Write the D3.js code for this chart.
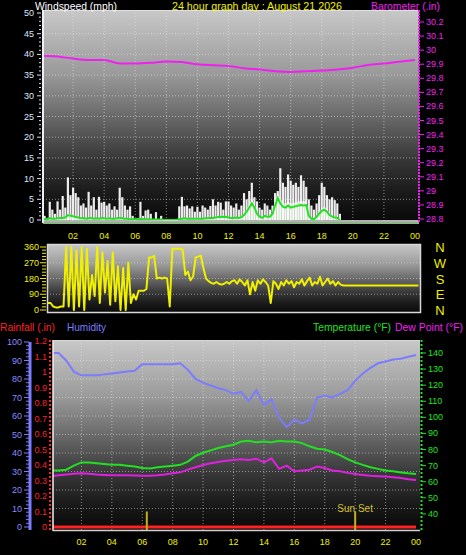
<!DOCTYPE html>
<html><head><meta charset="utf-8">
<script src="https://cdn.jsdelivr.net/npm/d3@7/dist/d3.min.js"></script>
<style>body{margin:0;background:#000}svg{display:block}</style>
</head><body>
<script>
// ---------- DATA ----------
const title = "24 hour graph day : August 21 2026";
const hourTicks = [2,4,6,8,10,12,14,16,18,20,22,24];
const hourLabels = ["02","04","06","08","10","12","14","16","18","20","22","00"];
const windTicks = [0,5,10,15,20,25,30,35,40,45,50];
const baroTicks = [28.8,28.9,29,29.1,29.2,29.3,29.4,29.5,29.6,29.7,29.8,29.9,30,30.1,30.2];
const dirTicks = [0,90,180,270,360];
const dirNames = ["N","E","S","W","N"];
const humTicks = [0,10,20,30,40,50,60,70,80,90,100];
const rainTicks = [0,0.1,0.2,0.3,0.4,0.5,0.6,0.7,0.8,0.9,1,1.1,1.2];
const tempTicks = [40,50,60,70,80,90,100,110,120,130,140];

// wind gust (mph), every 10 minutes from 00:00
const windGust = [
 2,1,0,4.4,2.5,1.5, 4.5,2.5,5.8,3,10.3,6, 7.8,6.5,5.5,3.5,4,3, 6.8,3.5,5.5,2.5,5.6,4.2,
 4.4,3.5,4,2.5,3.3,2.5, 7.8,5.5,3.5,2.5,3.3,1, 0,0.5,4.4,1,2.3,2.5, 1.5,0,1.9,0,1,0,
 0,0,0,0,0,3.3, 5.6,3.3,3.5,2.8,3.3,2, 3.2,2,3.5,3,2.5,3.4, 5,3.5,4.4,4.2,2.5,4.5,
 4.5,3.5,3,4,2.5,3.5, 6.5,5,7,9,5.5,4.5, 3,2.5,4,3.5,2.5,3.5, 6.5,7,12.5,9,8,11,
 9.5,8.5,9,8,10.8,9.5, 8,5,3.5,2.5,4,6, 9,8,6,5,5.5,4.8, 4,1.5,0,0,0,0,
 0,0,0,0,0,0, 0,0,0,0,0,0, 0,0,0,0,0,0, 0,0,0,0,0,0];
// average wind speed (mph), every 10 minutes
const windAvg = [
 0.2,0.2,0.3,0.4,0.3,0.3, 0.4,0.5,0.5,0.6,1.2,1.0, 0.9,0.7,0.6,0.4,0.5,0.3, 0.4,0.5,0.3,0.4,0.3,0.5,
 0.4,0.3,0.4,0.3,0.3,0.4, 0.5,0.4,0.3,0.3,0.2,0.2, 0.2,0.2,0.3,0.2,0.2,0.2, 0.1,0.1,0.1,0.1,0.1,0,
 0,0,0,0,0,0.2, 0.3,0.4,0.3,0.3,0.3,0.3, 0.3,0.3,0.3,0.4,0.4,0.5, 0.5,0.6,0.7,0.8,0.7,0.8,
 0.6,0.5,0.5,0.6,0.5,0.7, 1.2,2,3,4,3,1.5, 0.8,0.5,1,0.8,0.8,1.5, 3.5,5.3,4,3.2,3,3.5,
 3,3.2,3.3,3.5,3.6,3.5, 3.6,1,0.3,0.2,0.8,1.5, 2.2,2.5,2,1.2,0.8,0.6, 0.5,0,0,0,0,0,
 0,0,0,0,0,0, 0,0,0,0,0,0, 0,0,0,0,0,0, 0,0,0,0,0,0];
// barometer (in), hourly
const baro = [29.96,29.955,29.94,29.93,29.93,29.905,29.905,29.91,29.92,29.915,29.9,29.893,29.888,
 29.872,29.862,29.85,29.845,29.85,29.855,29.862,29.875,29.895,29.905,29.918,29.93];
// wind direction (degrees), every 10 minutes
const windDir = [
 40,40,20,15,15,20,20,360, 20,360,0,340,20,360,0,350,60,200,80,360,40,330,100,280,30,330,50,250,0,240,0,270,40,90,60,110,
 110,110,120,300,300,310,180,185,180,185,180,20,
 350,350,350,350,345,200,220,170,190,300,305,310,
 240,180,165,155,150,160,150,145,150,160,150,165,
 170,150,175,160,140,170,90,160,110,170,150,175,
 160,140,40,165,150,120,160,140,170,150,165,130,
 160,150,175,140,165,185,140,160,150,190,140,160,
 180,150,165,140,160,145,
 140,140,140,140,140,140,140,140,140,140,140,140,140,140,140,140,140,140,140,140,140,140,140,140,140,140,140,140,140,140];
// temperature, dew point (°F) and humidity (%), every 30 minutes
const temperature = [67,67,67.5,70,72,72,71.5,71,70.5,70.5,70,69.5,68.5,68.2,69,69.5,70,70.5,72.5,76,78,79.5,81,82,
 83,85,85.5,84.5,85,84.5,85.5,85,85,84,82,80.5,80,78.5,76.5,74,72,70.5,69,68,67,66.5,65.8,65.2,64.8];
const dewPoint = [63.5,64,64.5,65,65.2,65,64.5,64.2,64,64,64,63.8,63.7,63.7,64,64.5,65.2,65.8,67.5,69,70.4,71.5,72.3,73,
 73.5,74,73.5,74.3,72,74.5,68,70,66.5,67,67.5,69.5,68.5,67,66.5,65.5,64.8,64.2,63.7,63.4,63.2,62.8,62.3,61.5,61];
const humidity = [94,94,90,84,82,82,82,82.5,83,83.5,84,84.5,88,88,88,88,88,88.5,85,80,78,76.5,75,74,
 72,73,68,74,66,69,59,54,58,56,58,70,71,70,72,74,79,83,86,88.5,89.5,90.5,91,92,93];
const rainfall = [0,0];           // start / end of day
const sunEvents = [6.3, 20.0];
const sunEventLabels = ["", "Sun Set"];

// ---------- DRAW ----------
const W = 466, H = 555;
const svg = d3.select("body").append("svg").attr("width", W).attr("height", H)
  .style("font-family", "'Liberation Sans', Arial, sans-serif");
svg.append("rect").attr("width", W).attr("height", H).attr("fill", "#000");
const defs = svg.append("defs");
const grad = defs.append("linearGradient").attr("id", "bg").attr("x1", 0).attr("y1", 0).attr("x2", 0).attr("y2", 1);
[[0,"#c8c8c8"],[0.3,"#9a9a9a"],[0.5,"#6a6a6a"],[0.7,"#383838"],[0.85,"#1c1c1c"],[1,"#080808"]]
  .forEach(([o,c]) => grad.append("stop").attr("offset", o).attr("stop-color", c));

function clip(id, x, y, w, h) {
  defs.append("clipPath").attr("id", id).append("rect").attr("x", x).attr("y", y).attr("width", w).attr("height", h);
}
const YEL = "#f0f000", MAG = "#f020f0", GRN = "#22e022", RED = "#ff2020", BLU = "#7c7cff";
const idx10 = d3.range(windGust.length).map(i => i / 6);
const idx30 = d3.range(temperature.length).map(i => i / 2);

// ===== Top panel: wind + barometer =====
const T = {l: 43, r: 419, t: 10, b: 222};
const xTop = d3.scaleLinear([0, 24], [42, 415]);
const yWind = d3.scaleLinear([0, 50], [220, 13]);
const yBaro = d3.scaleLinear([28.8, 30.2], [219, 22]);
svg.append("rect").attr("x", T.l).attr("y", T.t).attr("width", T.r - T.l).attr("height", T.b - T.t).attr("fill", "url(#bg)");
clip("cTop", T.l, T.t, T.r - T.l, T.b - T.t);
const gTop = svg.append("g").attr("clip-path", "url(#cTop)");
gTop.selectAll(".vg").data(hourTicks.slice(0, -1)).join("line")
  .attr("x1", d => xTop(d)).attr("x2", d => xTop(d)).attr("y1", T.t).attr("y2", T.b)
  .attr("stroke", "#e8e8e8").attr("stroke-dasharray", "1,2").attr("opacity", 0.55);
gTop.selectAll(".hg").data(windTicks.slice(1, -1)).join("line")
  .attr("x1", T.l).attr("x2", T.r).attr("y1", d => yWind(d)).attr("y2", d => yWind(d))
  .attr("stroke", "#e8e8e8").attr("stroke-dasharray", "1,2").attr("opacity", 0.55);
// avg area
const avgPts = windAvg.map((v, i) => [idx10[i], v]);
gTop.append("path").datum(avgPts)
  .attr("d", d3.area().x(d => xTop(d[0])).y0(yWind(0)).y1(d => yWind(d[1] * 1.3)))
  .attr("fill", "#c8f0c0").attr("opacity", 0.75);
// gust spikes
gTop.selectAll(".gust").data(windGust.map((v, i) => [idx10[i], v]).filter(d => d[1] > 0)).join("rect")
  .attr("x", d => xTop(d[0]) - 1.1).attr("width", 2.2)
  .attr("y", d => yWind(d[1])).attr("height", d => yWind(0) - yWind(d[1]))
  .attr("fill", "#ffffff").attr("opacity", 0.92);
gTop.append("path").datum(avgPts.filter(d => d[0] <= 19.3))
  .attr("d", d3.line().x(d => xTop(d[0])).y(d => yWind(d[1])))
  .attr("fill", "none").attr("stroke", GRN).attr("stroke-width", 2);
// barometer
gTop.append("path").datum(baro.map((v, i) => [i, v]))
  .attr("d", d3.line().x(d => xTop(d[0])).y(d => yBaro(d[1])).curve(d3.curveMonotoneX))
  .attr("fill", "none").attr("stroke", MAG).attr("stroke-width", 2);
// frame
svg.append("line").attr("x1", T.l).attr("x2", T.r).attr("y1", T.t + 0.5).attr("y2", T.t + 0.5).attr("stroke", "#e0e0e0");
svg.append("line").attr("x1", T.l).attr("x2", T.l).attr("y1", T.t).attr("y2", T.b + 1).attr("stroke", "#f0f0f0").attr("stroke-width", 2);
svg.append("line").attr("x1", T.l).attr("x2", T.r).attr("y1", 221).attr("y2", 221).attr("stroke", "#e8e8e8").attr("stroke-width", 1.5);
svg.append("line").attr("x1", T.l).attr("x2", T.r).attr("y1", 223).attr("y2", 223).attr("stroke", "#b8f0b0").attr("stroke-width", 1.5);
svg.append("line").attr("x1", T.r).attr("x2", T.r).attr("y1", T.t).attr("y2", T.b + 1).attr("stroke", MAG).attr("stroke-width", 2).attr("stroke-dasharray", "2,1");
// left wind axis
svg.selectAll(".wmin").data(d3.range(0, 51)).join("line")
  .attr("x1", d => d % 5 ? 39 : 37).attr("x2", 41).attr("y1", d => yWind(d)).attr("y2", d => yWind(d))
  .attr("stroke", "#d8e0ff").attr("stroke-width", 1);
svg.selectAll(".wl").data(windTicks).join("text")
  .attr("x", 34).attr("y", d => yWind(d) + 3).attr("text-anchor", "end")
  .attr("font-size", 9).attr("fill", "#dde6ff").text(d => d);
// right baro axis
svg.selectAll(".bt").data(baroTicks).join("line")
  .attr("x1", T.r + 1).attr("x2", T.r + 5).attr("y1", d => yBaro(d)).attr("y2", d => yBaro(d))
  .attr("stroke", MAG);
svg.selectAll(".bl").data(baroTicks).join("text")
  .attr("x", 426).attr("y", d => yBaro(d) + 3)
  .attr("font-size", 9).attr("fill", MAG).text(d => d3.format("")(d));
// hour labels
svg.selectAll(".hl").data(hourTicks).join("text")
  .attr("x", d => xTop(d)).attr("y", 239).attr("text-anchor", "middle")
  .attr("font-size", 9).attr("fill", YEL).text((d, i) => hourLabels[i]);
// titles
svg.append("text").attr("x", 35).attr("y", 10).attr("font-size", 11).attr("fill", "#fff")
  .attr("textLength", 82).attr("lengthAdjust", "spacingAndGlyphs").text("Windspeed (mph)");
svg.append("text").attr("x", 172).attr("y", 10).attr("font-size", 11).attr("fill", YEL)
  .attr("textLength", 170).attr("lengthAdjust", "spacingAndGlyphs").text(title);
svg.append("text").attr("x", 371).attr("y", 10).attr("font-size", 11).attr("fill", MAG)
  .attr("textLength", 69).attr("lengthAdjust", "spacingAndGlyphs").text("Barometer (.in)");

// ===== Middle panel: wind direction =====
const M = {l: 47, r: 421, t: 244, b: 313};
const xMid = d3.scaleLinear([0, 24], [48, 421]);
const yDir = d3.scaleLinear([0, 360], [310, 247]);
svg.append("rect").attr("x", M.l).attr("y", M.t).attr("width", M.r - M.l).attr("height", M.b - M.t).attr("fill", "url(#bg)");
clip("cMid", M.l, M.t, M.r - M.l, M.b - M.t);
const gMid = svg.append("g").attr("clip-path", "url(#cMid)");
gMid.selectAll(".hg").data(dirTicks.slice(1, -1)).join("line")
  .attr("x1", M.l).attr("x2", M.r).attr("y1", d => yDir(d)).attr("y2", d => yDir(d))
  .attr("stroke", "#e8e8e8").attr("stroke-dasharray", "1,2").attr("opacity", 0.5);
gMid.append("path").datum(windDir.map((v, i) => [idx10[i], v]))
  .attr("d", d3.line().x(d => xMid(d[0])).y(d => yDir(d[1])))
  .attr("fill", "none").attr("stroke", "#f0f000").attr("stroke-width", 2).attr("stroke-linejoin", "round");
svg.append("rect").attr("x", M.l + 0.5).attr("y", M.t + 0.5).attr("width", M.r - M.l - 1).attr("height", M.b - M.t - 1)
  .attr("fill", "none").attr("stroke", "#d8d8d8").attr("stroke-width", 1.5);
svg.selectAll(".dmin").data(d3.range(0, 361, 18)).join("line")
  .attr("x1", d => d % 90 ? 42 : 40).attr("x2", 46).attr("y1", d => yDir(d)).attr("y2", d => yDir(d))
  .attr("stroke", YEL);
svg.selectAll(".dl").data(dirTicks).join("text")
  .attr("x", 39).attr("y", d => yDir(d) + 3).attr("text-anchor", "end")
  .attr("font-size", 9).attr("fill", YEL).text(d => d);
svg.selectAll(".dn").data(dirTicks).join("text")
  .attr("x", 440).attr("y", d => yDir(d) + 5).attr("text-anchor", "middle")
  .attr("font-size", 13).attr("fill", YEL).text((d, i) => dirNames[i]);

// ===== Bottom panel: temperature / humidity / rain =====
const B = {l: 53, r: 420, t: 340, b: 530};
const xBot = d3.scaleLinear([0, 24], [51, 416]);
const yHum = d3.scaleLinear([0, 100], [527, 342]);
const yRain = d3.scaleLinear([0, 1.2], [527, 341]);
const yTemp = d3.scaleLinear([30, 140], [530, 353]);
svg.append("rect").attr("x", B.l).attr("y", B.t).attr("width", B.r - B.l).attr("height", B.b - B.t).attr("fill", "url(#bg)");
clip("cBot", B.l, B.t, B.r - B.l, B.b - B.t);
const gBot = svg.append("g").attr("clip-path", "url(#cBot)");
gBot.selectAll(".vg").data(hourTicks.slice(0, -1)).join("line")
  .attr("x1", d => xBot(d)).attr("x2", d => xBot(d)).attr("y1", B.t).attr("y2", B.b)
  .attr("stroke", "#e8e8e8").attr("stroke-dasharray", "1,2").attr("opacity", 0.55);
gBot.selectAll(".hg").data(humTicks.slice(1, -1)).join("line")
  .attr("x1", B.l).attr("x2", B.r).attr("y1", d => yHum(d)).attr("y2", d => yHum(d))
  .attr("stroke", "#e8e8e8").attr("stroke-dasharray", "1,2").attr("opacity", 0.5);
const lineB = (ys) => d3.line().x(d => xBot(d[0])).y(d => ys(d[1]));
gBot.append("path").datum(humidity.map((v, i) => [idx30[i], v]))
  .attr("d", lineB(yHum)).attr("fill", "none").attr("stroke", BLU).attr("stroke-width", 2);
gBot.append("path").datum(temperature.map((v, i) => [idx30[i], v]))
  .attr("d", lineB(yTemp)).attr("fill", "none").attr("stroke", GRN).attr("stroke-width", 2);
gBot.append("path").datum(dewPoint.map((v, i) => [idx30[i], v]))
  .attr("d", lineB(yTemp)).attr("fill", "none").attr("stroke", "#e020e0").attr("stroke-width", 2);
gBot.append("path").datum(rainfall.map((v, i) => [i * 24, v]))
  .attr("d", lineB(yRain)).attr("fill", "none").attr("stroke", RED).attr("stroke-width", 3);
// sun events
gBot.selectAll(".sun").data(sunEvents).join("line")
  .attr("x1", d => xBot(d)).attr("x2", d => xBot(d)).attr("y1", yRain(0.1)).attr("y2", B.b)
  .attr("stroke", "#c0b020").attr("stroke-width", 2);
svg.selectAll(".sunl").data(sunEvents).join("text")
  .attr("x", d => xBot(d)).attr("y", yRain(0.1)).attr("text-anchor", "middle")
  .attr("font-size", 10).attr("fill", "#d0c030").text((d, i) => sunEventLabels[i]);
// frame
svg.append("line").attr("x1", B.l).attr("x2", B.l).attr("y1", B.t).attr("y2", B.b + 1).attr("stroke", "#f0f0f0").attr("stroke-width", 1.5);
svg.append("line").attr("x1", B.l).attr("x2", B.r).attr("y1", B.b + 0.5).attr("y2", B.b + 0.5).attr("stroke", "#d0d0d0").attr("stroke-width", 1.5);
svg.append("line").attr("x1", B.l).attr("x2", B.r).attr("y1", B.t + 0.5).attr("y2", B.t + 0.5).attr("stroke", "#d8d8d8");
// humidity axis
svg.append("line").attr("x1", 30).attr("x2", 30).attr("y1", 342).attr("y2", 530).attr("stroke", BLU).attr("stroke-width", 3);
svg.selectAll(".hmin").data(d3.range(0, 101, 2)).join("line")
  .attr("x1", d => d % 10 ? 26 : 24).attr("x2", 29).attr("y1", d => yHum(d)).attr("y2", d => yHum(d))
  .attr("stroke", BLU);
svg.selectAll(".hul").data(humTicks).join("text")
  .attr("x", 22).attr("y", d => yHum(d) + 3).attr("text-anchor", "end")
  .attr("font-size", 9).attr("fill", "#8a8aff").text(d => d);
// rain axis
svg.append("line").attr("x1", 50).attr("x2", 50).attr("y1", 340).attr("y2", 530).attr("stroke", RED).attr("stroke-width", 2).attr("stroke-dasharray", "2,2");
svg.selectAll(".rl").data(rainTicks).join("text")
  .attr("x", 47).attr("y", d => yRain(d) + 3).attr("text-anchor", "end")
  .attr("font-size", 9).attr("fill", RED).text(d => d);
// temperature axis
svg.append("line").attr("x1", 421.5).attr("x2", 421.5).attr("y1", 340).attr("y2", 531).attr("stroke", GRN).attr("stroke-width", 2).attr("stroke-dasharray", "2,2");
svg.selectAll(".tt").data(tempTicks).join("line")
  .attr("x1", 422).attr("x2", 426).attr("y1", d => yTemp(d)).attr("y2", d => yTemp(d)).attr("stroke", GRN);
svg.selectAll(".tl").data(tempTicks).join("text")
  .attr("x", 428).attr("y", d => yTemp(d) + 3)
  .attr("font-size", 9).attr("fill", GRN).text(d => d);
// hour labels
svg.selectAll(".bhl").data(hourTicks).join("text")
  .attr("x", d => xBot(d)).attr("y", 545).attr("text-anchor", "middle")
  .attr("font-size", 9).attr("fill", YEL).text((d, i) => hourLabels[i]);
// headers
svg.append("text").attr("x", 0).attr("y", 331).attr("font-size", 10.5).attr("fill", RED)
  .attr("textLength", 55).attr("lengthAdjust", "spacingAndGlyphs").text("Rainfall (.in)");
svg.append("text").attr("x", 67).attr("y", 331).attr("font-size", 10.5).attr("fill", BLU)
  .attr("textLength", 39).attr("lengthAdjust", "spacingAndGlyphs").text("Humidity");
svg.append("text").attr("x", 313).attr("y", 331).attr("font-size", 10).attr("fill", GRN)
  .attr("textLength", 78).attr("lengthAdjust", "spacingAndGlyphs").text("Temperature (°F)");
svg.append("text").attr("x", 395).attr("y", 331).attr("font-size", 10).attr("fill", MAG)
  .attr("textLength", 68).attr("lengthAdjust", "spacingAndGlyphs").text("Dew Point (°F)");
</script>
</body></html>
